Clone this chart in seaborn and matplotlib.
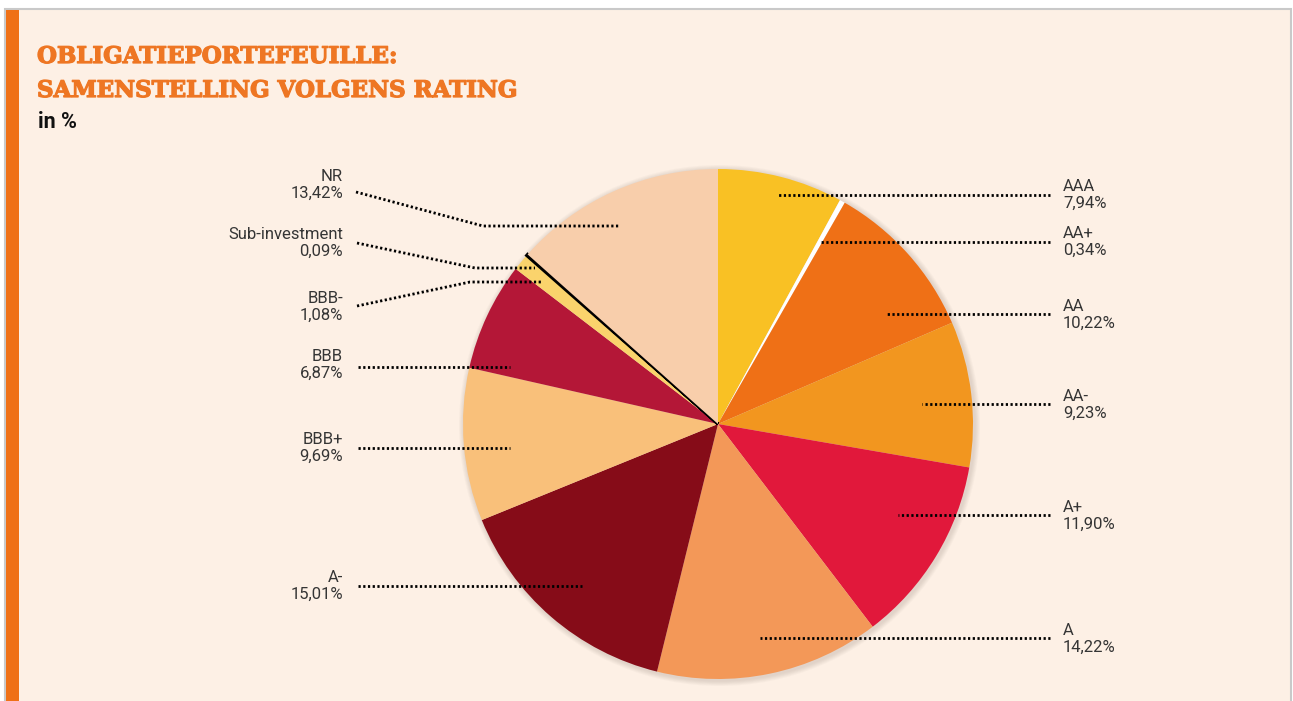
import matplotlib
matplotlib.use("Agg")
import matplotlib.pyplot as plt
import matplotlib.patheffects as pe
import seaborn as sns
from matplotlib.patches import Rectangle, Circle

# ---------------- data ----------------
ratings = ["AAA", "AA+", "AA", "AA-", "A+", "A", "A-", "BBB+", "BBB", "BBB-",
           "Sub-investment", "NR"]
shares = [7.94, 0.34, 10.22, 9.23, 11.90, 14.22, 15.01, 9.69, 6.87, 1.08, 0.09, 13.42]
share_labels = ["7,94%", "0,34%", "10,22%", "9,23%", "11,90%", "14,22%", "15,01%",
                "9,69%", "6,87%", "1,08%", "0,09%", "13,42%"]
slice_colors = ["#F9C124", "#FFFFFF", "#EF7016", "#F2961F", "#E1183B", "#F39858",
                "#860C18", "#F9C07A", "#B41737", "#FAD36C", "#000000", "#F8CEAB"]

title_lines = ["OBLIGATIEPORTEFEUILLE:", "SAMENSTELLING VOLGENS RATING"]
subtitle = "in %"

# ---------------- layout (pixel units, origin top-left) ----------------
W, H = 1293, 701
CX, CY, R = 718, 424, 255
leaders = {
    "AAA": dict(side="r", path=[(1050, 195), (777, 195)], ty=195),
    "AA+": dict(side="r", path=[(1050, 242), (820, 242)], ty=242),
    "AA": dict(side="r", path=[(1050, 314), (885, 314)], ty=315),
    "AA-": dict(side="r", path=[(1050, 404), (922, 404)], ty=405),
    "A+": dict(side="r", path=[(1050, 515), (898, 515)], ty=516),
    "A": dict(side="r", path=[(1050, 638), (760, 638)], ty=639),
    "A-": dict(side="l", path=[(358, 586), (582, 586)], ty=586),
    "BBB+": dict(side="l", path=[(358, 448), (510, 448)], ty=448),
    "BBB": dict(side="l", path=[(358, 367), (510, 367)], ty=365),
    "BBB-": dict(side="l", path=[(357, 306), (470, 282), (541, 282)], ty=307),
    "Sub-investment": dict(side="l", path=[(357, 243), (475, 268), (535, 268)], ty=243),
    "NR": dict(side="l", path=[(356, 192), (483, 226), (620, 226)], ty=185),
}

sns.set_theme(style="white")
plt.rcParams['font.family'] = ['Roboto', 'DejaVu Sans']

fig = plt.figure(figsize=(W / 100, H / 100), dpi=100)
fig.patch.set_facecolor("white")
ax = fig.add_axes([0, 0, 1, 1])


def Y(py):
    return H - py


# panel background & frame
ax.add_patch(Rectangle((5, Y(H + 5)), 1286, H + 5 - 9, facecolor="#FDF0E5",
                       edgecolor="#C9C9C9", linewidth=1.5, zorder=0))
ax.add_patch(Rectangle((6, Y(H + 5)), 13, H + 5 - 10, facecolor="#EF7016",
                       edgecolor="none", zorder=1))

# soft shadow behind pie
for k in range(6):
    ax.add_patch(Circle((CX + 1.5, Y(CY) - 1.5), R + 1 + k * 0.9,
                        facecolor="#7a6a60", edgecolor="none", alpha=0.035, zorder=1))

wedges, _ = ax.pie(shares, colors=slice_colors, startangle=90, counterclock=False,
                   center=(CX, Y(CY)), radius=R,
                   wedgeprops=dict(linewidth=0))
for w in wedges:
    w.set_zorder(2)
sub_idx = ratings.index("Sub-investment")
wedges[sub_idx].set_edgecolor("black")
wedges[sub_idx].set_linewidth(2.2)

# leader lines and labels
for name, lab in zip(ratings, share_labels):
    d = leaders[name]
    xs = [p[0] for p in d["path"]]
    ys = [Y(p[1]) for p in d["path"]]
    ax.plot(xs, ys, color="black", linewidth=2.0, linestyle=(0, (0.8, 0.9)),
            solid_capstyle="butt", zorder=3)
    if d["side"] == "r":
        ax.text(1063, Y(d["ty"]), f"{name}\n{lab}", ha="left", va="center",
                fontsize=12, color="#353535", linespacing=1.2, zorder=4)
    else:
        ax.text(343, Y(d["ty"]), f"{name}\n{lab}", ha="right", va="center",
                fontsize=12, color="#353535", linespacing=1.2, zorder=4,
                multialignment="right")

# titles
stroke = [pe.withStroke(linewidth=0.9, foreground="#EE7623")]
ax.text(37, Y(63), title_lines[0], ha="left", va="baseline", fontsize=16.5,
        fontweight="bold", color="#EE7623", family=["DejaVu Serif"], path_effects=stroke)
ax.text(37, Y(97), title_lines[1], ha="left", va="baseline", fontsize=16.5,
        fontweight="bold", color="#EE7623", family=["DejaVu Serif"], path_effects=stroke)
ax.text(38, Y(128), subtitle, ha="left", va="baseline", fontsize=15.5,
        fontweight="bold", color="#111111")

ax.set_xlim(0, W)
ax.set_ylim(0, H)
ax.set_aspect("equal")
ax.axis("off")

fig.savefig("out.png", dpi=100, facecolor="white")
